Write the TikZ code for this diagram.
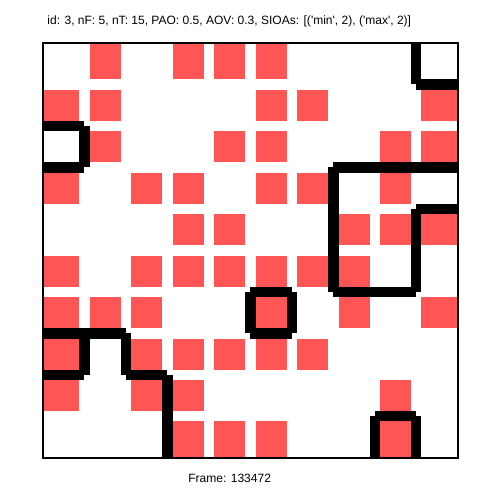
\documentclass[tikz,border=0pt]{standalone}
\usepackage{fontspec}
\setmainfont{Liberation Sans}[Ligatures=TeXOff]
\definecolor{cellred}{RGB}{255,85,85}

\begin{document}
\begin{tikzpicture}[cell/.style={fill=cellred},
  gap/.style={draw=white, line width=0.253cm},
  wall/.style={line width=0.253cm},
  caption/.style={inner sep=0pt, font=\fontsize{8.25}{10}\selectfont}]
\useasboundingbox (-1.037,-1.068) rectangle (11.068,11.037);
% Labels
\node[caption, anchor=west] (title) at (0.1,10.52) {id: 3, nF: 5, nT: 15, PAO: 0.5, AOV: 0.3, SIOAs: [('min', 2), ('max', 2)]};
\node[caption] (frameno) at (4.5,-0.51) {Frame: 133472};

% Cells, row by row from the top
\fill[cell] (1,9) rectangle (2,10) (3,9) rectangle (4,10) (4,9) rectangle (5,10) (5,9) rectangle (6,10);
\fill[cell] (0,8) rectangle (1,9) (1,8) rectangle (2,9) (5,8) rectangle (6,9) (6,8) rectangle (7,9) (9,8) rectangle (10,9);
\fill[cell] (1,7) rectangle (2,8) (4,7) rectangle (5,8) (5,7) rectangle (6,8) (8,7) rectangle (9,8) (9,7) rectangle (10,8);
\fill[cell] (0,6) rectangle (1,7) (2,6) rectangle (3,7) (3,6) rectangle (4,7) (5,6) rectangle (6,7) (6,6) rectangle (7,7) (8,6) rectangle (9,7);
\fill[cell] (3,5) rectangle (4,6) (4,5) rectangle (5,6) (7,5) rectangle (8,6) (8,5) rectangle (9,6) (9,5) rectangle (10,6);
\fill[cell] (0,4) rectangle (1,5) (2,4) rectangle (3,5) (3,4) rectangle (4,5) (4,4) rectangle (5,5) (5,4) rectangle (6,5) (6,4) rectangle (7,5) (7,4) rectangle (8,5);
\fill[cell] (0,3) rectangle (1,4) (1,3) rectangle (2,4) (2,3) rectangle (3,4) (5,3) rectangle (6,4) (7,3) rectangle (8,4) (9,3) rectangle (10,4);
\fill[cell] (0,2) rectangle (1,3) (2,2) rectangle (3,3) (3,2) rectangle (4,3) (4,2) rectangle (5,3) (5,2) rectangle (6,3) (6,2) rectangle (7,3);
\fill[cell] (0,1) rectangle (1,2) (2,1) rectangle (3,2) (3,1) rectangle (4,2) (8,1) rectangle (9,2);
\fill[cell] (3,0) rectangle (4,1) (4,0) rectangle (5,1) (5,0) rectangle (6,1) (8,0) rectangle (9,1);
\draw[gap] (0.001,0.001) grid (9.999,9.999);

% Walls
\draw[wall] (9,10) -- (9,9) (9,9) -- (10,9);
\draw[wall] (0,8) -- (1,8) (1,8) -- (1,7) (0,7) -- (1,7);
\draw[wall] (7,7) -- (8,7) (8,7) -- (9,7) (9,7) -- (10,7);
\draw[wall] (7,7) -- (7,6) (7,6) -- (7,5) (7,5) -- (7,4);
\draw[wall] (9,6) -- (10,6) (9,6) -- (9,5) (9,5) -- (9,4);
\draw[wall] (7,4) -- (8,4) (8,4) -- (9,4);
\draw[wall] (5,4) -- (6,4) (6,4) -- (6,3) (5,3) -- (6,3) (5,4) -- (5,3);
\draw[wall] (0,3) -- (1,3) (1,3) -- (1,2) (0,2) -- (1,2);
\draw[wall] (1,3) -- (2,3) (2,3) -- (2,2) (2,2) -- (3,2);
\draw[wall] (3,2) -- (3,1) (3,1) -- (3,0);
\draw[wall] (8,1) -- (9,1) (8,1) -- (8,0) (9,1) -- (9,0);

% Border
\draw[line width=0.048cm] (0,0) rectangle (10,10);
\end{tikzpicture}
\end{document}
